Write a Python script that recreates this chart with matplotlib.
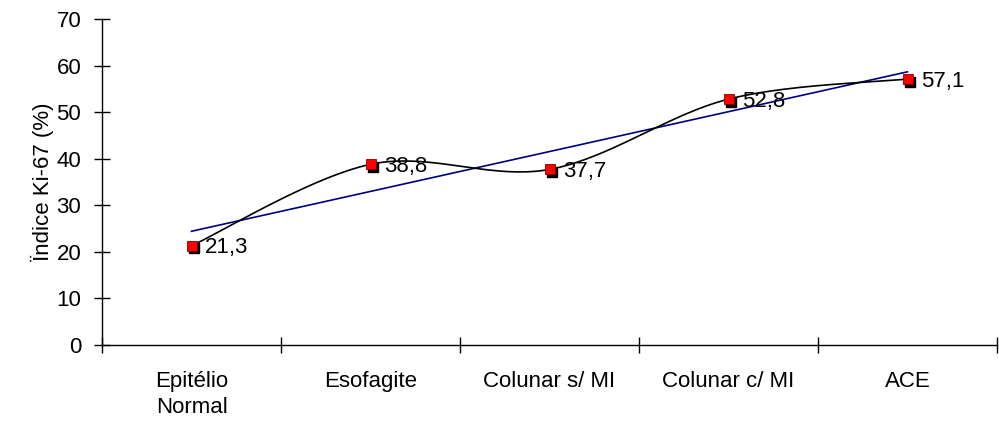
import numpy as np
import matplotlib.pyplot as plt
import matplotlib.transforms as mtransforms

plt.rcParams['font.family'] = ['Liberation Sans', 'DejaVu Sans']

categories = ["Epitélio\nNormal", "Esofagite", "Colunar s/ MI", "Colunar c/ MI", "ACE"]
ki67 = [21.3, 38.8, 37.7, 52.8, 57.1]
value_labels = ["21,3", "38,8", "37,7", "52,8", "57,1"]

FS = 16


def smooth_curve(x, y, steps=40):
    # Catmull-Rom spline through the points (same idea as a smoothed line chart)
    px = np.concatenate([[x[0]], x, [x[-1]]])
    py = np.concatenate([[y[0]], y, [y[-1]]])
    xs, ys = [], []
    t = np.linspace(0, 1, steps)
    for i in range(1, len(px) - 2):
        p0, p1, p2, p3 = [np.array([px[j], py[j]]) for j in range(i - 1, i + 3)]
        c1 = p1 + (p2 - p0) / 6.0
        c2 = p2 - (p3 - p1) / 6.0
        pts = ((1 - t) ** 3)[:, None] * p1 + (3 * (1 - t) ** 2 * t)[:, None] * c1 \
            + (3 * (1 - t) * t ** 2)[:, None] * c2 + (t ** 3)[:, None] * p2
        xs.extend(pts[:, 0])
        ys.extend(pts[:, 1])
    return np.array(xs), np.array(ys)


x = np.arange(len(categories))
y = np.array(ki67)

fig = plt.figure(figsize=(9.99, 4.28), dpi=100)
ax = fig.add_axes([102 / 999, 1 - 345 / 428, 895 / 999, 326 / 428])

# linear trend
slope, intercept = np.polyfit(x, y, 1)
ax.plot(x, slope * x + intercept, color='#000080', lw=1.2, zorder=2)

# smoothed series line
sx, sy = smooth_curve(x.astype(float), y)
ax.plot(sx, sy, color='black', lw=1.2, zorder=3)

# markers with a dark shadow
shadow = mtransforms.offset_copy(ax.transData, fig=fig, x=2.5, y=-2.5, units='dots')
ax.plot(x, y, 's', ms=7, color='black', transform=shadow, zorder=4)
ax.plot(x, y, 's', ms=7, markerfacecolor='#ff0000', markeredgecolor='#800000',
        markeredgewidth=0.6, zorder=5)

for xi, yi, lab in zip(x, y, value_labels):
    ax.annotate(lab, (xi, yi), xytext=(9.5, -1.5), textcoords='offset points',
                ha='left', va='center', fontsize=FS, zorder=6)

ax.set_xlim(-0.5, len(categories) - 0.5)
ax.set_ylim(0, 70)
ax.set_yticks(np.arange(0, 71, 10))

ax.set_xticks(x)
ax.set_xticklabels(categories, fontsize=FS, linespacing=1.3)
ax.set_xticks(np.arange(-0.5, len(categories), 1), minor=True)
ax.tick_params(axis='x', which='major', length=0, pad=19)
ax.tick_params(axis='x', which='minor', direction='inout', length=12, width=1)
ax.tick_params(axis='y', direction='inout', length=12, width=1, labelsize=FS, pad=9)

for s in ['top', 'right']:
    ax.spines[s].set_visible(False)
for s in ['left', 'bottom']:
    ax.spines[s].set_linewidth(1)

ax.set_ylabel("Ïndice Ki-67 (%)", fontsize=FS, labelpad=2)

fig.savefig('out.png', dpi=100)
